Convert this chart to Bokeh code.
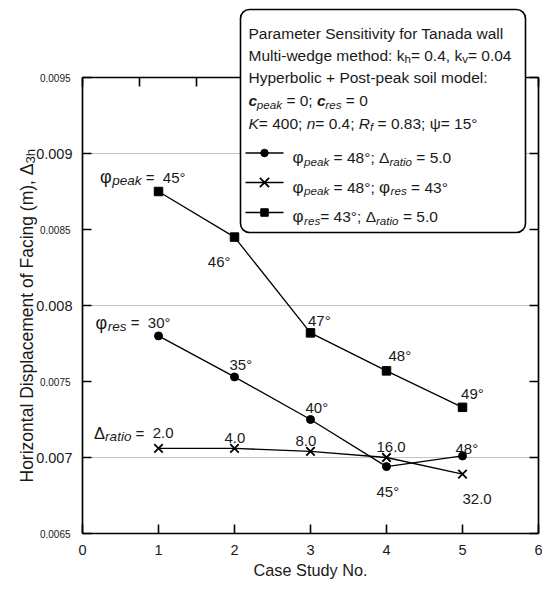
import math
from bokeh.plotting import figure
from bokeh.models import Range1d, LinearAxis, FixedTicker, Label, BoxAnnotation
from bokeh.embed import file_html
from bokeh.resources import INLINE

# ---------------- data ----------------
case_no = [1, 2, 3, 4, 5]
disp_peak48_ratio5 = [0.00780, 0.00753, 0.00725, 0.00694, 0.00701]   # circles, vary phi_res
disp_peak48_res43 = [0.00706, 0.00706, 0.00704, 0.00700, 0.00689]    # crosses, vary ratio
disp_res43_ratio5 = [0.00875, 0.00845, 0.00782, 0.00757, 0.00733]    # squares, vary phi_peak

res_angle_labels = ["30°", "35°", "40°", "45°", "48°"]
ratio_labels = ["2.0", "4.0", "8.0", "16.0", "32.0"]
peak_angle_labels = ["45°", "46°", "47°", "48°", "49°"]

x_ticks = [0, 1, 2, 3, 4, 5, 6]
y_major_ticks = [0.007, 0.008, 0.009]
y_minor_ticks = [0.0065, 0.0075, 0.0085, 0.0095]
y_minor_labels = ["0.0065", "0.0075", "0.0085", "0.0095"]
top_ticks = [0, 0.75, 1.5, 2.25, 3, 3.75, 4.5, 5.25, 6]

# ---------------- geometry helpers ----------------
FONT = "Liberation Sans"
INK = "#1a1a1a"
X0, X1, Y0, Y1 = 0.0, 6.0, 0.0065, 0.0095
BOX = 456                # size of the axes box in px
FL, FT = 82, 77          # axes box left / top in px
CW, CH = 542, 584        # canvas size
SX = (X1 - X0) / BOX     # data per px
SY = (Y1 - Y0) / BOX


def px_x(px):
    return X0 + (px - FL) * SX


def px_y(py):
    return Y1 - (py - FT) * SY


W = {' ': 278, '(': 333, ')': 333, '+': 584, ',': 278, '-': 333, '.': 278, ':': 278,
     ';': 278, '=': 584, '°': 400, 'φ': 680, 'Δ': 668, 'ψ': 700,
     'A': 667, 'B': 667, 'C': 722, 'D': 722, 'E': 667, 'F': 611, 'G': 778, 'H': 722,
     'I': 278, 'J': 500, 'K': 667, 'L': 556, 'M': 833, 'N': 722, 'O': 778, 'P': 667,
     'Q': 778, 'R': 722, 'S': 667, 'T': 611, 'U': 722, 'V': 667, 'W': 944, 'X': 667,
     'a': 556, 'b': 556, 'c': 500, 'd': 556, 'e': 556, 'f': 278, 'g': 556, 'h': 556,
     'i': 222, 'j': 222, 'k': 500, 'l': 222, 'm': 833, 'n': 556, 'o': 556, 'p': 556,
     'q': 556, 'r': 333, 's': 500, 't': 278, 'u': 556, 'v': 500, 'w': 722, 'x': 500,
     'y': 500, 'z': 500}


def seg_style(kind, base, sub, greek):
    if kind == 'n':
        return base, "normal", 0.0
    if kind == 'i':
        return base, "italic", 0.0
    if kind == 'bi':
        return base, "bold italic", 0.0
    if kind == 'g':
        return base * greek, "normal", 0.0
    if kind == 's':
        return base * sub, "italic", base * 0.24
    return base * sub, "normal", base * 0.24   # 'sn'


def text_w(t, size, bold=False):
    w = sum(W.get(c, 556) for c in t) / 1000.0 * size
    return w * (1.08 if bold else 1.0)


def rich(p, segs, ax, ay, ox, oy, base, align="left", sub=0.75, greek=1.1):
    """ax, ay: data anchor; ox, oy: px offset of the baseline start (oy > 0 is down)."""
    def seg_w(t, k):
        size, style, _ = seg_style(k, base, sub, greek)
        return text_w(t, size, "bold" in style)
    total = sum(seg_w(t, k) for t, k in segs)
    cur = ox - (total if align == "right" else 0.0)
    for t, k in segs:
        size, style, drop = seg_style(k, base, sub, greek)
        lead = len(t) - len(t.lstrip(' '))
        core = t.strip(' ')
        cur += text_w(' ' * lead, size)
        if core:
            p.add_layout(Label(x=ax + cur * SX, y=ay - (oy + drop) * SY,
                               x_units="data", y_units="data", text=core,
                               text_font=FONT, text_font_size=f"{size:.1f}px",
                               text_font_style=style, text_color=INK,
                               text_align="left", text_baseline="alphabetic"))
            cur += text_w(core, size, "bold" in style)
            cur += text_w(' ' * (len(t) - lead - len(core)), size)


# ---------------- figure: the frame covers the whole canvas ----------------
p = figure(frame_width=CW, frame_height=CH, min_border=0, title=None,
           x_range=Range1d(px_x(0), px_x(CW)), y_range=Range1d(px_y(CH), px_y(0)),
           output_backend="svg", toolbar_location=None,
           background_fill_color="white", border_fill_color="white")
p.outline_line_color = None
p.grid.visible = False

TICK_COLOR = "black"
TICK_LEN = 9


def style_axis(ax):
    ax.axis_line_color = "black"
    ax.axis_line_width = 1.7
    ax.major_tick_in = TICK_LEN
    ax.major_tick_out = 0
    ax.minor_tick_in = TICK_LEN
    ax.minor_tick_out = 0
    ax.major_tick_line_color = TICK_COLOR
    ax.minor_tick_line_color = TICK_COLOR
    ax.major_tick_line_width = 1.6
    ax.minor_tick_line_width = 1.6
    ax.major_label_text_font = FONT
    ax.major_label_text_color = INK
    ax.major_label_text_font_size = "14.5px"


xa = p.xaxis[0]
xa.ticker = FixedTicker(ticks=x_ticks, minor_ticks=[])
xa.fixed_location = Y0
xa.bounds = (X0, X1)
style_axis(xa)
xa.major_label_standoff = 11
xa.axis_label = "Case Study No."
xa.axis_label_text_font = FONT
xa.axis_label_text_font_size = "16.3px"
xa.axis_label_text_font_style = "normal"
xa.axis_label_text_color = INK
xa.axis_label_standoff = 3

ya = p.yaxis[0]
ya.ticker = FixedTicker(ticks=y_major_ticks, minor_ticks=y_minor_ticks)
ya.fixed_location = X0
ya.bounds = (Y0, Y1)
style_axis(ya)
ya.major_label_standoff = 10

ra = LinearAxis(ticker=FixedTicker(ticks=[], minor_ticks=y_major_ticks + y_minor_ticks),
                fixed_location=X1, bounds=(Y0, Y1))
style_axis(ra)
p.add_layout(ra, "right")

ta = LinearAxis(ticker=FixedTicker(ticks=[], minor_ticks=top_ticks),
                fixed_location=Y1, bounds=(X0, X1))
style_axis(ta)
p.add_layout(ta, "above")

# horizontal grid lines at the labelled ticks, inside the axes box only
p.segment(x0=[X0] * len(y_major_ticks), x1=[X1] * len(y_major_ticks),
          y0=y_major_ticks, y1=y_major_ticks, line_color="#c4c4c4", line_width=1.2,
          level="underlay")

# small half-step labels on the y axis
for v, lab in zip(y_minor_ticks, y_minor_labels):
    p.add_layout(Label(x=px_x(70), y=v, text=lab, text_font=FONT, text_font_size="10px",
                       text_color=INK, text_align="right", text_baseline="middle"))

# rotated y axis title with subscript
ylab_main = "Horizontal Displacement of Facing (m), Δ"
ybase = 17.5
wmain = text_w(ylab_main, ybase)
p.add_layout(Label(x=px_x(26), y=px_y(482), text=ylab_main, angle=math.pi / 2,
                   text_font=FONT, text_font_size=f"{ybase}px", text_color=INK,
                   text_align="left", text_baseline="alphabetic"))
p.add_layout(Label(x=px_x(26 + 4), y=px_y(482 - wmain), text="3h", angle=math.pi / 2,
                   text_font=FONT, text_font_size=f"{ybase * 0.75:.1f}px", text_color=INK,
                   text_align="left", text_baseline="alphabetic"))

# ---------------- series ----------------
LW = 1.3
p.line(case_no, disp_peak48_ratio5, line_color="black", line_width=LW)
p.scatter(case_no, disp_peak48_ratio5, marker="circle", size=8,
          fill_color="black", line_color="black")
p.line(case_no, disp_peak48_res43, line_color="black", line_width=LW)
p.scatter(case_no, disp_peak48_res43, marker="x", size=12,
          line_color="black", line_width=1.8)
p.line(case_no, disp_res43_ratio5, line_color="black", line_width=LW)
p.scatter(case_no, disp_res43_ratio5, marker="square", size=8.5,
          fill_color="black", line_color="black")

# ---------------- point annotations ----------------
AB = 15
ASUB, AGR = 0.9, 1.2
rich(p, [("φ", 'g'), ("peak", 's'), (" =  ", 'n'), ("45°", 'n')],
     case_no[0], disp_res43_ratio5[0], 27, -14.5, AB, align="right", sub=ASUB, greek=AGR)
sq_off = [None, (-4, 24, "right"), (-2.5, -12.2, "left"), (2, -15.8, "left"), (-1.4, -13.5, "left")]
for i in range(1, 5):
    ox, oy, al = sq_off[i]
    rich(p, [(peak_angle_labels[i], 'n')], case_no[i], disp_res43_ratio5[i], ox, oy, AB, align=al)

rich(p, [("φ", 'g'), ("res", 's'), (" =  ", 'n'), ("30°", 'n')],
     case_no[0], disp_peak48_ratio5[0], 12, -13, AB, align="right", sub=ASUB, greek=AGR)
c_off = [None, (-5, -12), (-5, -12.5), (-10, 24.5), (-7, -7.4)]
for i in range(1, 5):
    ox, oy = c_off[i]
    rich(p, [(res_angle_labels[i], 'n')], case_no[i], disp_peak48_ratio5[i], ox, oy, AB)

rich(p, [("Δ", 'g'), ("ratio", 's'), (" =  ", 'n'), ("2.0", 'n')],
     case_no[0], disp_peak48_res43[0], 15, -15, AB, align="right", sub=ASUB, greek=1.1)
x_off = [None, (-10, -10.3), (-15, -10), (-10, -10.3), (0, 24.7)]
for i in range(1, 5):
    ox, oy = x_off[i]
    rich(p, [(ratio_labels[i], 'n')], case_no[i], disp_peak48_res43[i], ox, oy, AB)

# ---------------- legend box ----------------
box = BoxAnnotation(left=px_x(240), right=px_x(525), top=px_y(9), bottom=px_y(232),
                    fill_color="white", fill_alpha=1.0, line_color="black", line_alpha=1.0,
                    line_width=1.6, border_radius=9)
p.add_layout(box)

LB = 15.5
title_lines = [
    [("Parameter Sensitivity for Tanada wall", 'n')],
    [("Multi-wedge method: k", 'n'), ("h", 'sn'), ("= 0.4, k", 'n'), ("v", 'sn'), ("= 0.04", 'n')],
    [("Hyperbolic + Post-peak soil model:", 'n')],
    [("c", 'bi'), ("peak", 's'), (" = 0; ", 'n'), ("c", 'bi'), ("res", 's'), (" = 0", 'n')],
    [("K", 'i'), ("= 400; ", 'n'), ("n", 'i'), ("= 0.4; ", 'n'), ("R", 'i'), ("f", 's'),
     (" = 0.83; ψ= 15°", 'n')],
]
title_baselines = [32.5, 54.5, 77, 100, 122.5]
for segs, bl in zip(title_lines, title_baselines):
    rich(p, segs, px_x(248), px_y(bl), 0, 0, LB)

row_lines = [
    [("φ", 'g'), ("peak", 's'), (" = 48°; ", 'n'), ("Δ", 'n'), ("ratio", 's'), (" = 5.0", 'n')],
    [("φ", 'g'), ("peak", 's'), (" = 48°; ", 'n'), ("φ", 'g'), ("res", 's'), (" = 43°", 'n')],
    [("φ", 'g'), ("res", 's'), ("= 43°; ", 'n'), ("Δ", 'n'), ("ratio", 's'), (" = 5.0", 'n')],
]
row_baselines = [157, 186.5, 216]
for segs, bl in zip(row_lines, row_baselines):
    rich(p, segs, px_x(292), px_y(bl), 0, 0, LB)

# legend keys (drawn above the box)
row_centers = [152.5, 182, 212]
key_markers = [("circle", 7.5, 1.0), ("x", 13, 1.8), ("square", 7.5, 1.0)]
for cy, (mk, sz, mlw) in zip(row_centers, key_markers):
    p.line([px_x(245), px_x(283)], [px_y(cy), px_y(cy)], line_color="black",
           line_width=LW, level="overlay")
    p.scatter([px_x(264)], [px_y(cy)], marker=mk, size=sz, fill_color="black",
              line_color="black", line_width=mlw, level="overlay")

open("out.html", "w").write(file_html(p, INLINE))
